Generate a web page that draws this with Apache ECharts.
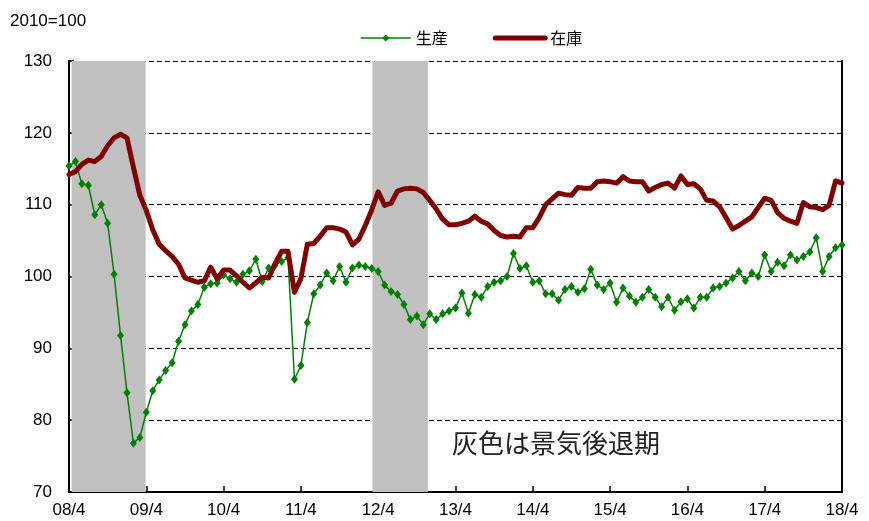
<!DOCTYPE html>
<html>
<head>
<meta charset="utf-8">
<script src="https://cdn.jsdelivr.net/npm/echarts@6/dist/echarts.min.js"></script>
<style>
    html, body { margin: 0; padding: 0; background: #fff; }
    #main { width: 869px; height: 521px; }
</style>
</head>
<body>
<div id="main"></div>
<script>
// monthly, 2008/4 .. 2018/4 (index 0 = 08/4)
let tickLabels = ['08/4', '09/4', '10/4', '11/4', '12/4', '13/4', '14/4', '15/4', '16/4', '17/4', '18/4'];

let production = [
    115.4, 116.0, 112.9, 112.7, 108.6, 110.0, 107.4, 100.3, 91.8, 83.8, 76.8, 77.6,
    81.1, 84.1, 85.6, 86.9, 88.0, 91.0, 93.3, 95.2, 96.1, 98.5, 99.0, 99.1,
    100.2, 99.7, 99.2, 100.3, 100.8, 102.4, 99.3, 101.2, 101.6, 102.1, 102.6, 85.7,
    87.6, 93.6, 97.6, 98.8, 100.5, 99.4, 101.4, 99.2, 101.2, 101.6, 101.4, 101.1,
    100.7, 98.8, 97.9, 97.5, 96.1, 94.0, 94.5, 93.3, 94.8, 94.0, 94.8, 95.2,
    95.6, 97.7, 94.9, 97.5, 97.1, 98.6, 99.2, 99.4, 100.0, 103.2, 101.1, 101.5,
    99.2, 99.4, 97.6, 97.6, 96.7, 98.2, 98.6, 97.8, 98.3, 101.0, 98.8, 98.2,
    99.1, 96.4, 98.4, 97.3, 96.4, 97.1, 98.2, 97.1, 95.8, 97.1, 95.3, 96.5,
    96.9, 95.6, 97.1, 97.1, 98.4, 98.6, 99.1, 99.8, 100.7, 99.4, 100.5, 100.0,
    103.0, 100.7, 102.0, 101.5, 103.0, 102.3, 102.8, 103.4, 105.4, 100.7, 102.8, 104.0,
    104.4
];

let inventory = [
    114.2, 114.6, 115.6, 116.2, 116.0, 116.7, 118.2, 119.3, 119.8, 119.3, 115.2, 111.3,
    109.2, 106.5, 104.5, 103.6, 102.8, 101.7, 99.8, 99.5, 99.2, 99.4, 101.3, 99.7,
    100.9, 100.9, 100.1, 99.2, 98.4, 99.1, 99.9, 99.8, 101.8, 103.5, 103.5, 97.8,
    99.7, 104.5, 104.6, 105.6, 106.8, 106.8, 106.6, 106.2, 104.4, 105.2, 107.1, 109.3,
    111.8, 109.9, 110.2, 111.9, 112.2, 112.3, 112.2, 111.7, 110.6, 109.4, 108.0, 107.2,
    107.2, 107.4, 107.7, 108.4, 107.7, 107.3, 106.4, 105.7, 105.5, 105.6, 105.5, 106.8,
    106.8, 108.2, 110.0, 110.8, 111.6, 111.4, 111.3, 112.4, 112.3, 112.3, 113.2, 113.3,
    113.2, 113.0, 113.9, 113.3, 113.2, 113.2, 111.9, 112.4, 112.8, 113.0, 112.3, 114.0,
    112.8, 112.9, 112.2, 110.6, 110.5, 109.7, 108.2, 106.6, 107.1, 107.7, 108.3, 109.6,
    110.9, 110.6, 108.9, 108.1, 107.7, 107.4, 110.3, 109.7, 109.6, 109.3, 109.9, 113.3,
    113.0
];

// recession periods (08/4-09/3, 12/4-12/11) as month-index edges
let recessions = [[0.4, 11.9], [47.1, 55.7]];

function pairs(arr) {
    return arr.map(function (v, i) { return [i, v]; });
}

window.addEventListener('load', function () {
    let chart = echarts.init(document.getElementById('main'));
    let numFont = 'Liberation Sans, Arial, sans-serif';
    let jpFont = 'Noto Sans CJK JP, sans-serif';

    let option = {
        animation: false,
        backgroundColor: '#fff',
        grid: { left: 69, right: 27, top: 61, bottom: 29 },
        legend: {
            data: [
                { name: '生産', lineStyle: { width: 1.5 } },
                { name: '在庫', itemStyle: { opacity: 0 }, lineStyle: { width: 5, cap: 'round' } }
            ],
            left: 355,
            top: 25,
            itemWidth: 50,
            itemHeight: 9,
            itemGap: 45,
            textStyle: { fontFamily: jpFont, fontSize: 16, color: '#000' }
        },
        graphic: [
            {
                type: 'text', left: 10, top: 13,
                style: { text: '2010=100', fontFamily: numFont, fontSize: 17, fill: '#000' }
            },
            {
                type: 'text', left: 452, top: 430,
                style: { text: '灰色は景気後退期', fontFamily: jpFont, fontSize: 26, fill: '#222' }
            }
        ],
        xAxis: {
            type: 'value',
            min: 0,
            max: 120,
            interval: 12,
            axisLine: { lineStyle: { color: '#000', width: 2 } },
            axisTick: { inside: true, length: 6, lineStyle: { color: '#000', width: 1.5 } },
            axisLabel: {
                margin: 10,
                fontFamily: numFont,
                fontSize: 17,
                color: '#000',
                formatter: function (v) { return tickLabels[v / 12]; }
            },
            splitLine: { show: false }
        },
        yAxis: [
            {
                type: 'value',
                min: 70,
                max: 130,
                interval: 10,
                axisLine: { show: true, lineStyle: { color: '#000', width: 2 } },
                axisTick: { show: true, inside: true, length: 5, lineStyle: { color: '#000', width: 1.5 } },
                axisLabel: { margin: 17, fontFamily: numFont, fontSize: 17, color: '#000' },
                splitLine: { show: true, lineStyle: { color: '#000', width: 1, type: [5, 3] } }
            },
            {
                type: 'value',
                position: 'right',
                min: 70,
                max: 130,
                interval: 10,
                axisLine: { show: true, lineStyle: { color: '#000', width: 2 } },
                axisTick: { show: false },
                axisLabel: { show: false },
                splitLine: { show: false }
            }
        ],
        series: [
            {
                type: 'line',
                data: [],
                silent: true,
                z: 1,
                markArea: {
                    silent: true,
                    itemStyle: { color: '#c0c0c0' },
                    data: recessions.map(function (r) {
                        return [{ xAxis: r[0] }, { xAxis: r[1] }];
                    })
                }
            },
            {
                name: '生産',
                type: 'line',
                data: pairs(production),
                z: 3,
                symbol: 'diamond',
                symbolSize: [7, 9],
                showAllSymbol: true,
                itemStyle: { color: '#008000' },
                lineStyle: { color: '#008000', width: 1.5 }
            },
            {
                name: '在庫',
                type: 'line',
                data: pairs(inventory),
                z: 4,
                symbol: 'none',
                itemStyle: { color: '#800000' },
                lineStyle: { color: '#800000', width: 5, join: 'round', cap: 'round' }
            }
        ]
    };
    chart.setOption(option);
}, false);
</script>
</body>
</html>
